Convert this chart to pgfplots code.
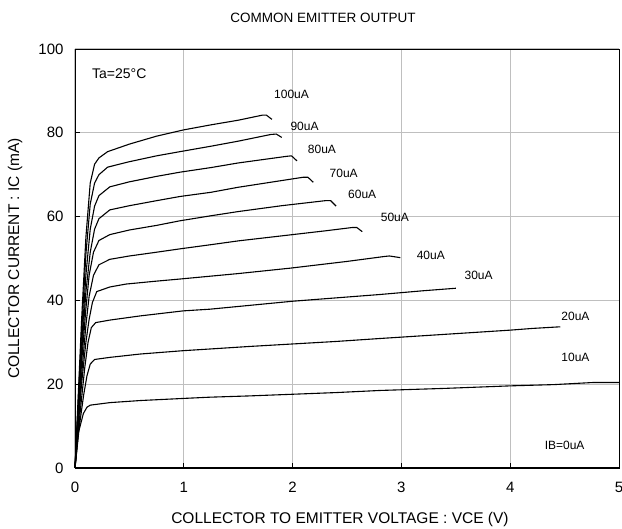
\documentclass[border=0pt]{standalone}
\usepackage{fontspec}
\setmainfont{Liberation Sans}
\usepackage{pgfplots}
\pgfplotsset{compat=1.18}

\begin{document}
\begin{tikzpicture}
\begin{axis}[
  scale only axis,
  width=544pt, height=419pt,
  xmin=0, xmax=5, ymin=0, ymax=100,
  xtick={0,1,...,5}, ytick={0,20,...,100},
  xtick pos=bottom, ytick pos=left,
  tick align=inside, major tick length=5pt,
  tick style={black, line width=0.8pt},
  grid=major,
  major grid style={line width=1pt, draw=black!25},
  axis line style={black, line width=0.9pt},
  /pgf/number format/assume math mode=true,
  tick label style={font=\fontsize{15}{17}\selectfont},
  xticklabel style={yshift=-11pt},
  yticklabel style={xshift=-8pt},
  clip=false,
]
% curves, IB = 100 ... 10 uA
\addplot[black, line width=1.1pt] coordinates {(0,0) (0.06,35) (0.10,55) (0.14,68) (0.18,72.5) (0.22,74) (0.3,75.5) (0.5,77.3) (0.75,79.2) (1.0,80.7) (1.25,81.9) (1.5,83.0) (1.72,84.2) (1.76,84.2) (1.81,83.2)};
\addplot[black, line width=1.1pt] coordinates {(0,0) (0.06,32) (0.10,51) (0.14,63) (0.18,68) (0.22,70) (0.3,71.8) (0.5,73.1) (0.75,74.5) (0.965,75.5) (1.25,76.8) (1.5,78) (1.8,79.6) (1.85,79.7) (1.90,78.9)};
\addplot[black, line width=1.1pt] coordinates {(0,0) (0.06,29) (0.10,46) (0.14,57) (0.18,62.5) (0.22,65) (0.32,67.1) (0.5,68.3) (0.75,69.6) (0.965,70.6) (1.25,71.7) (1.5,72.8) (1.95,74.4) (1.99,74.5) (2.04,73.3)};
\addplot[black, line width=1.1pt] coordinates {(0,0) (0.06,27) (0.10,42) (0.14,51.5) (0.18,57) (0.22,59.5) (0.32,61.6) (0.5,62.6) (0.75,63.8) (0.965,64.8) (1.25,65.8) (1.5,67) (1.8,68.2) (2.1,69.4) (2.14,69.4) (2.19,68.2)};
\addplot[black, line width=1.1pt] coordinates {(0,0) (0.06,25) (0.10,38) (0.13,46) (0.17,51.5) (0.22,54.3) (0.32,55.7) (0.5,56.8) (0.75,57.9) (0.965,59.0) (1.25,60.2) (1.5,61.2) (1.9,62.6) (2.3,63.8) (2.35,63.8) (2.40,62.5)};
\addplot[black, line width=1.1pt] coordinates {(0,0) (0.06,22) (0.10,34) (0.13,41) (0.17,46) (0.22,48.5) (0.32,49.8) (0.5,50.6) (0.75,51.5) (0.965,52.3) (1.25,53.3) (1.5,54.2) (2.0,55.7) (2.3,56.6) (2.55,57.4) (2.59,57.4) (2.64,56.4)};
\addplot[black, line width=1.1pt] coordinates {(0,0) (0.06,20) (0.10,30) (0.13,35.5) (0.16,39.5) (0.2,42.1) (0.32,43.2) (0.47,43.9) (0.75,44.6) (0.965,45.1) (1.5,46.4) (1.98,47.7) (2.5,49.3) (2.85,50.5) (2.89,50.6) (2.99,50.2)};
\addplot[black, line width=1.1pt] coordinates {(0,0) (0.05,14) (0.09,24) (0.12,30) (0.15,33.5) (0.19,34.7) (0.32,35.3) (0.6,36.3) (0.995,37.5) (1.24,37.9) (1.6,38.8) (2.0,39.8) (2.4,40.6) (2.80,41.4) (3.2,42.3) (3.50,42.9)};
\addplot[black, line width=1.1pt] coordinates {(0,0) (0.04,10) (0.08,17.5) (0.11,22) (0.14,24.8) (0.18,25.9) (0.32,26.4) (0.6,27.2) (0.995,28.0) (1.24,28.4) (1.6,29.0) (2.0,29.6) (2.4,30.2) (2.8,30.9) (3.4,31.9) (4.0,32.9) (4.2,33.3) (4.46,33.7)};
\addplot[black, line width=1.1pt] coordinates {(0,0) (0.03,8.3) (0.077,13) (0.11,14.5) (0.14,15.0) (0.32,15.6) (0.6,16.1) (0.995,16.6) (1.24,16.9) (1.6,17.2) (2.0,17.6) (2.4,18.0) (2.8,18.5) (3.4,19.0) (4.0,19.6) (4.4,19.9) (4.76,20.4) (5.0,20.4)};

% curve labels
\begin{scope}[every node/.style={font=\fontsize{12}{14}\selectfont, inner sep=0pt}]
\node at (axis cs:1.99,89.2) {100uA};
\node at (axis cs:2.11,81.6) {90uA};
\node at (axis cs:2.27,76.1) {80uA};
\node at (axis cs:2.47,70.3) {70uA};
\node at (axis cs:2.64,65.2) {60uA};
\node at (axis cs:2.94,59.8) {50uA};
\node at (axis cs:3.27,50.8) {40uA};
\node at (axis cs:3.71,45.9) {30uA};
\node at (axis cs:4.60,36.3) {20uA};
\node at (axis cs:4.60,26.4) {10uA};
\node at (axis cs:4.50,5.3) {IB=0uA};
\end{scope}
\node[anchor=west, inner sep=0pt, font=\fontsize{14}{16}\selectfont] at (axis cs:0.156,94) {Ta=25°C};

% titles
\node[font=\fontsize{13.5}{16}\selectfont] at ([yshift=31pt]axis description cs:0.456,1) {COMMON EMITTER OUTPUT};
\node[font=\fontsize{15.5}{18}\selectfont] at ([yshift=-51pt]axis description cs:0.487,0) {COLLECTOR TO EMITTER VOLTAGE : VCE (V)};
\node[rotate=90, font=\fontsize{15.5}{18}\selectfont] at ([xshift=-60pt]axis description cs:0,0.5) {COLLECTOR CURRENT : IC (mA)};
\end{axis}
\draw[black, line width=2pt] (0,0) -- (544pt,0);
\pgfresetboundingbox
\path (-75pt,-61pt) rectangle (547pt,468pt);
\end{tikzpicture}
\end{document}
